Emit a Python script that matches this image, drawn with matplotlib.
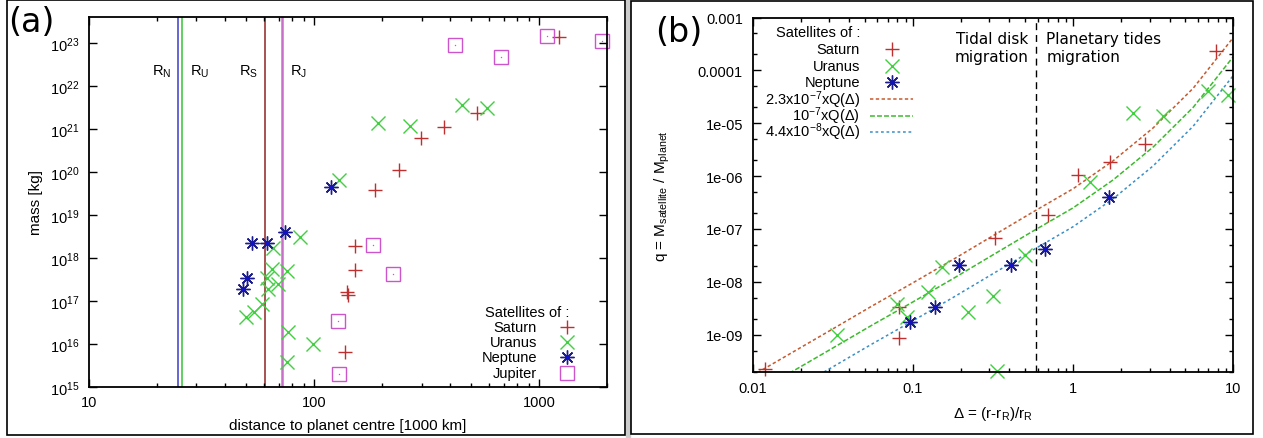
import numpy as np
import matplotlib
matplotlib.use("Agg")
import matplotlib.pyplot as plt
from matplotlib.ticker import FixedLocator, NullLocator, FixedFormatter, LogLocator
from matplotlib.patches import Rectangle

plt.rcParams['font.family'] = ['Liberation Sans', 'DejaVu Sans']
plt.rcParams['mathtext.default'] = 'regular'

# ---- panel (a): distance [1000 km] and mass [kg] ----
saturn_r = [137.6, 139.5, 141.5, 151.5, 152.0, 187, 239, 298, 378, 528, 1219]
saturn_m = [6.4e15, 1.6e17, 1.4e17, 5.3e17, 1.9e18, 3.8e19, 1.08e20, 6.0e20, 1.1e21, 2.3e21, 1.35e23]

uranus_r = [49.8, 53.8, 58.5, 61.6, 62.6, 64.9, 65.9, 69.4, 75.6, 75.8, 76.9, 86.7, 99, 129, 193, 267, 456, 589]
uranus_m = [4.2e16, 5.4e16, 8.5e16, 3.5e17, 1.9e17, 5.5e17, 1.7e18, 2.5e17, 3.8e15, 4.9e17, 1.9e16,
            3.0e18, 1.0e16, 6.5e19, 1.35e21, 1.17e21, 3.6e21, 3.0e21]

neptune_r = [48.2, 50.2, 52.8, 61.6, 74.3, 118.6]
neptune_m = [1.9e17, 3.5e17, 2.2e18, 2.2e18, 4.1e18, 4.4e19]

jupiter_r = [128, 129, 182, 223, 424, 676, 1081, 1900]
jupiter_m = [3.5e16, 2.0e15, 2.0e18, 4.3e17, 8.9e22, 4.8e22, 1.48e23, 1.08e23]

roche_names = ['N', 'U', 'S', 'J']
roche_r = [24.9, 25.8, 60.7, 71.9]

# ---- panel (b): Delta and q ----
saturn_d = [0.0119, 0.082, 0.082, 0.326, 0.694, 1.078, 1.70, 2.81, 7.8]
saturn_q = [2.26e-10, 8.7e-10, 3.3e-9, 6.7e-8, 1.85e-7, 1.05e-6, 1.88e-6, 4.07e-6, 2.36e-4]

uranus_d = [0.0334, 0.0793, 0.0925, 0.125, 0.151, 0.222, 0.318, 0.333, 0.501, 1.275, 2.38, 3.66, 6.98, 9.3]
uranus_q = [1.01e-9, 3.84e-9, 2.2e-9, 6.4e-9, 1.9e-8, 2.75e-9, 5.5e-9, 2.1e-10, 3.2e-8, 7.7e-7,
            1.55e-5, 1.36e-5, 4.1e-5, 3.4e-5]

neptune_d = [0.096, 0.137, 0.195, 0.409, 0.668, 1.68]
neptune_q = [1.78e-9, 3.3e-9, 2.1e-8, 2.1e-8, 4.1e-8, 4.1e-7]

# Q(Delta)
q_delta = [0.01, 0.0178, 0.0316, 0.0562, 0.1, 0.178, 0.316, 0.562, 1.0, 1.78, 3.16, 5.62, 10.0]
q_value = [7.4e-4, 2.04e-3, 5.6e-3, 1.55e-2, 4.17e-2, 0.115, 0.324, 0.912, 2.51, 8.5, 35.5, 200, 1820]
coefs = [2.3e-7, 1e-7, 4.4e-8]
coef_labels = [r'2.3x10$^{-7}$xQ($\Delta$)', r'10$^{-7}$xQ($\Delta$)', r'4.4x10$^{-8}$xQ($\Delta$)']
delta_split = 0.587

c_sat = '#bf2f2f'
c_ura = '#3fcf3f'
c_nep = '#1c1c8c'
c_jup = '#cc55cc'
roche_colors = ['#5a5ad0', '#55cc55', '#a04444', '#c870c8']
curve_colors = ['#c65a2e', '#3cba2c', '#3a8fc6']

fig = plt.figure(figsize=(12.63, 4.39), dpi=100)
W, H = 1263, 439


def rect(l, t, r, b):
    return [l / W, 1 - b / H, (r - l) / W, (b - t) / H]


# panel frames
fig.patches.append(Rectangle((626 / W, 0), 4 / W, 1, transform=fig.transFigure, color='#cccccc', zorder=0))
for (l, t, r, b) in [(7, 1, 625, 436), (631, 2, 1253, 435)]:
    fig.patches.append(Rectangle((l / W, 1 - b / H), (r - l) / W, (b - t) / H, transform=fig.transFigure,
                                 fill=False, edgecolor='black', lw=1.2, zorder=1))


def star(ax, x, y, ms, **kw):
    ax.plot(x, y, ls='none', marker=(8, 2, 0), ms=ms, mew=1.0, color=c_nep, clip_on=False, **kw)
    ax.plot(x, y, ls='none', marker='o', ms=2.5, mew=0, color='#1010d0', clip_on=False, **kw)


def style(ax):
    ax.tick_params(which='both', direction='in', top=True, right=True, labelsize=10.5, width=1.0)
    ax.tick_params(which='major', length=6)
    ax.tick_params(which='minor', length=3)
    for s in ax.spines.values():
        s.set_linewidth(1.3)


# ================= panel (a) =================
ax = fig.add_axes(rect(89, 18, 607, 388))
ax.set_xscale('log')
ax.set_yscale('log')
ax.set_xlim(10, 2000)
ax.set_ylim(1e15, 4e23)

for name, rr, col in zip(roche_names, roche_r, roche_colors):
    ax.axvline(rr, color=col, lw=1.3 if name != 'J' else 1.8, zorder=1)
for name, rr, dx, ha in zip(roche_names, roche_r, [-5, 6, -5, 6], ['right', 'left', 'right', 'left']):
    ax.annotate('R$_{%s}$' % name, (rr, 2.2e22), xytext=(dx, 0), textcoords='offset points',
                ha=ha, va='center', fontsize=10.5)

ax.plot(saturn_r, saturn_m, ls='none', marker='+', ms=10, mew=1.0, color=c_sat, clip_on=False)
ax.plot(uranus_r, uranus_m, ls='none', marker='x', ms=10, mew=1.0, color=c_ura, clip_on=False)
star(ax, neptune_r, neptune_m, 10)
ax.plot(jupiter_r, jupiter_m, ls='none', marker='s', ms=9.5, mew=1.0, mfc='none', mec=c_jup, clip_on=False)
ax.plot(jupiter_r, jupiter_m, ls='none', marker='o', ms=1, mew=0, color=c_jup, clip_on=False)

ax.yaxis.set_major_locator(FixedLocator([10.0 ** k for k in range(15, 24)]))
ax.yaxis.set_major_formatter(FixedFormatter([r'10$^{%d}$' % k for k in range(15, 24)]))
ax.yaxis.set_minor_locator(NullLocator())
ax.xaxis.set_major_locator(FixedLocator([10, 100, 1000]))
ax.xaxis.set_major_formatter(FixedFormatter(['10', '100', '1000']))
ax.xaxis.set_minor_locator(LogLocator(base=10, subs=np.arange(2, 10)))
style(ax)
ax.tick_params(axis='y', pad=7)
ax.tick_params(axis='x', pad=6)
ax.set_xlabel('distance to planet centre [1000 km]', fontsize=11)
ax.set_ylabel('mass [kg]', fontsize=11)
ax.xaxis.set_label_coords(0.5, -0.083)
ax.yaxis.set_label_coords(-0.088, 0.5)

# key
ax.text(0.845, 0.203, 'Satellites of :', transform=ax.transAxes, ha='center', va='center', fontsize=10.5)
key_y = [0.161, 0.121, 0.080, 0.038]
for lab, yy in zip(['Saturn', 'Uranus', 'Neptune', 'Jupiter'], key_y):
    ax.text(0.865, yy, lab, transform=ax.transAxes, ha='right', va='center', fontsize=10.5)
ax.plot(0.923, key_y[0], transform=ax.transAxes, marker='+', ms=10, mew=1.0, color=c_sat, clip_on=False)
ax.plot(0.923, key_y[1], transform=ax.transAxes, marker='x', ms=10, mew=1.0, color=c_ura, clip_on=False)
star(ax, 0.923, key_y[2], 10, transform=ax.transAxes)
ax.plot(0.923, key_y[3], transform=ax.transAxes, marker='s', ms=9.5, mew=1.0, mfc='none', mec=c_jup,
        clip_on=False)

fig.text(8 / W, 1 - 22 / H, '(a)', fontsize=24, family='DejaVu Sans', va='center', ha='left')

# ================= panel (b) =================
bx = fig.add_axes(rect(752.7, 18.5, 1233.3, 372.7))
bx.set_xscale('log')
bx.set_yscale('log')
bx.set_xlim(0.01, 10)
bx.set_ylim(2e-10, 1e-3)

dashes = [(0, (2.2, 1.6)), (0, (3.2, 1.4)), (0, (1.8, 1.8))]
for c, col, ds in zip(coefs, curve_colors, dashes):
    bx.plot(q_delta, [c * v for v in q_value], color=col, lw=1.1, linestyle=ds)
bx.axvline(delta_split, color='black', lw=1.0, linestyle=(0, (5, 3.5)))

bx.plot(saturn_d, saturn_q, ls='none', marker='+', ms=10, mew=1.0, color=c_sat, clip_on=False)
bx.plot(uranus_d, uranus_q, ls='none', marker='x', ms=10, mew=1.0, color=c_ura, clip_on=False)
star(bx, neptune_d, neptune_q, 10)

ytk = [10.0 ** k for k in range(-9, -2)]
bx.yaxis.set_major_locator(FixedLocator(ytk))
bx.yaxis.set_major_formatter(FixedFormatter(['1e-09', '1e-08', '1e-07', '1e-06', '1e-05', '0.0001', '0.001']))
bx.yaxis.set_minor_locator(LogLocator(base=10, subs=[2.0, 5.0]))
bx.xaxis.set_major_locator(FixedLocator([0.01, 0.1, 1, 10]))
bx.xaxis.set_major_formatter(FixedFormatter(['0.01', '0.1', '1', '10']))
bx.xaxis.set_minor_locator(LogLocator(base=10, subs=np.arange(2, 10)))
style(bx)
bx.tick_params(axis='y', pad=7)
bx.tick_params(axis='x', pad=7)
bx.set_xlabel(r'$\Delta$ = (r-r$_R$)/r$_R$', fontsize=11)
bx.set_ylabel('q = M$_{satellite}$ / M$_{planet}$', fontsize=11)
bx.xaxis.set_label_coords(0.5, -0.09)
bx.yaxis.set_label_coords(-0.168, 0.5)

bx.text(0.574, 0.915, 'Tidal disk\nmigration', transform=bx.transAxes, ha='right', va='center',
        fontsize=11, family='DejaVu Sans', linespacing=1.25)
bx.text(0.611, 0.915, 'Planetary tides\nmigration', transform=bx.transAxes, ha='left', va='center',
        fontsize=11, family='DejaVu Sans', linespacing=1.25)

# key
bx.text(0.2234, 0.958, 'Satellites of :', transform=bx.transAxes, ha='right', va='center', fontsize=10.5)
kb_y = [0.911, 0.864, 0.818, 0.770, 0.723, 0.678]
for lab, yy in zip(['Saturn', 'Uranus', 'Neptune'] + coef_labels, kb_y):
    bx.text(0.2234, yy, lab, transform=bx.transAxes, ha='right', va='center', fontsize=10.5)
bx.plot(0.289, kb_y[0], transform=bx.transAxes, marker='+', ms=10, mew=1.0, color=c_sat, clip_on=False)
bx.plot(0.289, kb_y[1], transform=bx.transAxes, marker='x', ms=10, mew=1.0, color=c_ura, clip_on=False)
star(bx, 0.289, kb_y[2], 10, transform=bx.transAxes)
for yy, col, ds in zip(kb_y[3:], curve_colors, dashes):
    bx.plot([0.244, 0.333], [yy, yy], transform=bx.transAxes, color=col, lw=1.1, linestyle=ds)

fig.text(655 / W, 1 - 32 / H, '(b)', fontsize=24, family='DejaVu Sans', va='center', ha='left')

fig.savefig('out.png', dpi=100)
